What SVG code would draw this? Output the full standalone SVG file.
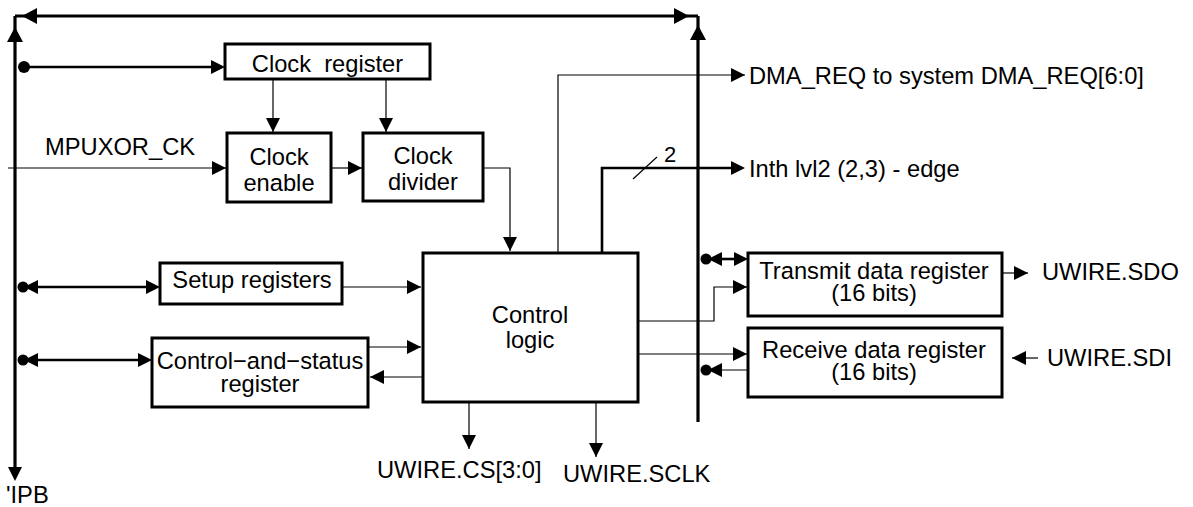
<svg xmlns="http://www.w3.org/2000/svg" width="1193" height="507" viewBox="0 0 1193 507">
<style>
text{font-family:"Liberation Sans",Arial,sans-serif;font-size:23.7px;fill:#000;white-space:pre}
.c{text-anchor:middle}
.box{fill:#fff;stroke:#000;stroke-width:3}
.bus{fill:none;stroke:#000;stroke-width:3.2}
.thk{fill:none;stroke:#000;stroke-width:2.6}
.thn{fill:none;stroke:#000;stroke-width:1.2}
.a{marker-end:url(#ah)}
.at{marker-end:url(#aht)}
.at2{marker-start:url(#aht);marker-end:url(#aht)}
.as{marker-start:url(#aht)}
</style>
<defs>
<marker id="ah" viewBox="0 0 14 14" refX="14" refY="7" markerWidth="14" markerHeight="14" markerUnits="userSpaceOnUse" orient="auto-start-reverse"><path d="M0,0 L14,7 L0,14z"/></marker>
<marker id="aht" viewBox="0 0 14 14" refX="10" refY="7" markerWidth="14" markerHeight="14" markerUnits="userSpaceOnUse" orient="auto-start-reverse"><path d="M0,0 L14,7 L0,14z"/></marker>
</defs>
<rect width="1193" height="507" fill="#fff"/>
<g id="clock-register"><rect class="box" x="225" y="44" width="205" height="35"/><text class="c" x="327.5" y="72">Clock  register</text></g>
<g id="clock-enable"><rect class="box" x="227" y="133" width="104" height="69"/><text class="c" x="279" y="165">Clock</text><text class="c" x="279" y="191">enable</text></g>
<g id="clock-divider"><rect class="box" x="363" y="133" width="120" height="68"/><text class="c" x="423" y="164">Clock</text><text class="c" x="423" y="190">divider</text></g>
<g id="control-logic"><rect class="box" x="423" y="253" width="215" height="149"/><text class="c" x="530" y="323">Control</text><text class="c" x="530" y="348">logic</text></g>
<g id="setup-registers"><rect class="box" x="160" y="263" width="182" height="41"/><text class="c" x="252" y="288">Setup registers</text></g>
<g id="control-status"><rect class="box" x="152" y="338" width="216" height="69"/><text class="c" x="260" y="369">Control−and−status</text><text class="c" x="260" y="392">register</text></g>
<g id="transmit"><rect class="box" x="748" y="253" width="254" height="63"/><text class="c" x="874" y="279">Transmit data register</text><text class="c" x="874" y="301">(16 bits)</text></g>
<g id="receive"><rect class="box" x="748" y="328" width="254" height="69"/><text class="c" x="874" y="358">Receive data register</text><text class="c" x="874" y="380">(16 bits)</text></g>
<g id="connectors">
<path class="bus" d="M15,16 H698"/>
<path class="bus at" d="M15,16 V477"/>
<path class="bus" d="M698,16 V422"/>
<polygon points="22,16 37,8 37,24"/>
<polygon points="689,16 674,8 674,24"/>
<polygon points="15,27 7,42 23,42"/>
<polygon points="698,25 690,40 706,40"/>
<circle cx="24" cy="67" r="6"/>
<path class="thk at" d="M24,67 H221"/>
<circle cx="23" cy="287" r="5.5"/>
<path class="thk at2" d="M28,287 H156"/>
<circle cx="23" cy="360" r="5.5"/>
<path class="thk at2" d="M28,360 H148"/>
<circle cx="706" cy="259" r="5.5"/>
<path class="thk at2" d="M712,259 H744"/>
<circle cx="706" cy="370" r="5.5"/>
<path class="thn as" d="M712,370 H748"/>
<path class="thn a" d="M8,168 H226"/>
<path class="thn a" d="M331,168 H362"/>
<path class="thn a" d="M273,79 V132"/>
<path class="thn a" d="M386,79 V132"/>
<path class="thn a" d="M483,168 H510 V251"/>
<path class="thn a" d="M558,253 V75 H745"/>
<path class="thk at" d="M602,253 V168 H741"/>
<path class="thn" d="M633,179 L657,157"/>
<path class="thn a" d="M342,287 H421"/>
<path class="thn a" d="M368,347 H421"/>
<path class="thn a" d="M423,377 H370"/>
<path class="thn a" d="M638,321 H714 V287 H747"/>
<path class="thn a" d="M638,354 H747"/>
<path class="thn a" d="M469,402 V449"/>
<path class="thn a" d="M596,402 V457"/>
<path class="thn a" d="M1002,273 H1028"/>
<path class="thn a" d="M1038,358 H1012"/>
</g>
<text x="45" y="155">MPUXOR_CK</text>
<text x="749" y="84">DMA_REQ to system DMA_REQ[6:0]</text>
<text x="749" y="177">Inth lvl2 (2,3) - edge</text>
<text x="664" y="162" style="font-size:22px">2</text>
<text x="1042" y="280">UWIRE.SDO</text>
<text x="1047" y="366">UWIRE.SDI</text>
<text x="377" y="478">UWIRE.CS[3:0]</text>
<text x="563" y="482">UWIRE.SCLK</text>
<text x="6" y="503">'IPB</text>
</svg>
